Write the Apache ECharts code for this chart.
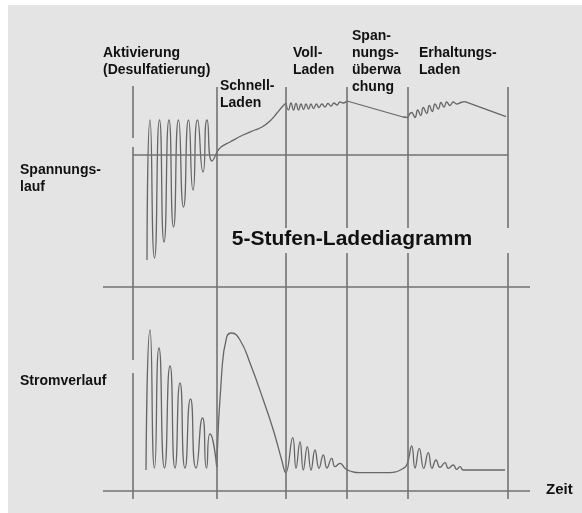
<!DOCTYPE html>
<html>
<head>
<meta charset="utf-8">
<script src="https://cdn.jsdelivr.net/npm/echarts@6/dist/echarts.min.js"></script>
<style>
html,body{margin:0;padding:0;background:#ffffff;}
#chart{width:582px;height:513px;}
</style>
</head>
<body>
<div id="chart"></div>
<script>
// Time axis (arbitrary units), stage boundaries
var stageBounds = [0, 84, 153, 214, 275, 375];
var stageNames = ['Aktivierung\n(Desulfatierung)', 'Schnell-\nLaden', 'Voll-\nLaden', 'Span-\nnungs-\nüberwa\nchung', 'Erhaltungs-\nLaden'];
var titleText = '5-Stufen-Ladediagramm';
var rowLabels = ['Spannungs-\nlauf', 'Stromverlauf'];
var timeLabel = 'Zeit';

// Voltage curve per stage (relative to resting voltage, arbitrary units) [t, u]
var voltActivation = [
  [14,-105],[17,35],[21.5,-103],[26.5,35],[31,-87],[36,35],[40.5,-72],[45.5,35],
  [50.5,-52],[55.5,35],[60,-35],[64.5,35],[70,-17],[74,35],[79,-6],[84,3]
];
var voltFast = [
  [84,3],[88,8],[97,13],[110,20],[122,25],[129,28],[137,34],[144,42],[149,48],[153,52]
];
var voltFull = [
  [153,52],[155.5,45],[158,52],[160.5,45],[163,51.5],[165.5,45],[168,51],[170.5,45.5],[173,51],
  [175.5,46],[178,51],[180.5,46.5],[183.5,51],[186,47.5],[189,51],[192,48],[195,51.5],
  [198,49],[201,52],[204,50],[207,53],[210,52],[214,54]
];
var voltMonitor = [[214,54],[270,38],[275,37.5]];
var voltFloat = [
  [275,37.5],[278.7,42.5],[282,37.5],[284.7,45],[287.7,39.5],[290.3,47.5],[293.7,41.5],[296.3,49.5],
  [299.3,43.5],[302,51],[305.3,46],[308,52.5],[311,48],[313.7,53],[317,49.5],
  [320.3,53],[323.7,51],[328,52.5],[332,53.3]
];
var voltFloatDecline = [[332,53.3],[373,38.3]];

// Current curve per stage (arbitrary units, 0 = time axis) [t, i]
var currActivation = [
  [13,21],[17,161],[21.5,23],[26,143],[31.5,23],[37,125],[42,23],[47,108],[52,23],
  [57.5,92],[63,23],[69.5,73],[73.5,23],[77,57],[83.7,24]
];
var currRest = [
  [83.7,24],[88.7,118],[93.7,154],[98.7,158],[107,151],[117,128],[130.3,91],[140.3,61],[148.7,31],[152.7,18.3],
  [159.7,53.3],[163,22.7],[167,49.3],[170.3,21],[174.3,44.3],[178,21],[182,41],[186,22.7],
  [190.3,36],[194,23],[198.7,32.7],[202,24.3],[207,27.7],[212,22.7],[217,20],[227,18.3],
  [257,18.3],[264,19.5],[268.7,21.7],[273.7,26],
  [278.7,45],[282,23],[286.3,42.7],[290.7,22.7],[295.3,38.3],[299,22.7],[303,31],[307,23.7],
  [312,28.3],[315.3,22.7],[320.3,26],[323.7,21.7],[327,24.3],[330.3,21],[372,21]
];

// Axis ranges
var tMin = -30, tMax = 397;
var uMin = -344, uMax = 69;
var iMin = -8, iMax = 405;
var dividerI = 204;      // horizontal line between voltage and current panels
var voltBaseU = 0;       // resting voltage line

var FRAME = '#727272';
var CURVE = '#666666';
var TXT = '#111111';
var FONT = '"Liberation Sans", Arial, Helvetica, sans-serif';

function seg(t, a, b){ return [{coord:[t,a]},{coord:[t,b]}]; }

var frameLines = [];
frameLines.push(seg(stageBounds[0], iMax, 353));
frameLines.push(seg(stageBounds[0], 344, 131));
frameLines.push(seg(stageBounds[0], 118, iMin));
frameLines.push(seg(stageBounds[1], 404, iMin));
for (var k = 2; k < stageBounds.length; k++) {
  frameLines.push(seg(stageBounds[k], iMax - 1, 263));
  frameLines.push(seg(stageBounds[k], 238, iMin));
}
frameLines.push([{coord:[tMin, dividerI]},{coord:[tMax, dividerI]}]);
frameLines.push([{coord:[tMin, 0]},{coord:[tMax, 0]}]);

var chart = echarts.init(document.getElementById('chart'), null, {renderer:'canvas'});

var textStyleBase = {fill: TXT, fontSize: 14, fontWeight: 'bold', fontFamily: FONT, lineHeight: 17, align:'left', verticalAlign:'top'};
function label(txt, x, y, extra){
  var st = Object.assign({}, textStyleBase, {text: txt, x: x, y: y}, extra || {});
  return {type:'text', silent:true, z:100, style: st};
}

function curve(name, data, axis, smooth, extra){
  return Object.assign({
    name: name, type: 'line', yAxisIndex: axis, data: data,
    smooth: smooth, showSymbol: false, symbol: 'none', clip: false,
    lineStyle: {color: CURVE, width: 1.3}
  }, extra || {});
}

var frameMarkLine = function(data){
  return {
    silent: true, symbol: 'none', animation: false,
    label: {show: false},
    lineStyle: {type: 'solid', color: FRAME, width: 1.6},
    data: data
  };
};

var option = {
  animation: false,
  backgroundColor: '#ffffff',
  grid: {left: 103, right: 52, top: 86, bottom: 14, containLabel: false},
  xAxis: {type:'value', min: tMin, max: tMax, show: false},
  yAxis: [
    {type:'value', min: uMin, max: uMax, show: false},
    {type:'value', min: iMin, max: iMax, show: false}
  ],
  graphic: [
    {type:'rect', silent:true, z:-10, shape:{x:8, y:5, width:574, height:508}, style:{fill:'#e4e4e4'}},
    label(stageNames[0], 103, 45),
    label(stageNames[1], 220, 78),
    label(stageNames[2], 293, 45),
    label(stageNames[3], 352, 28),
    label(stageNames[4], 419, 45),
    label(rowLabels[0], 20, 162),
    label(rowLabels[1], 20, 373),
    label(timeLabel, 546, 481, {fontSize: 15}),
    label(titleText, 352, 239, {fontSize: 21, align:'center', verticalAlign:'middle', lineHeight: 24})
  ],
  series: [
    curve('U Aktivierung', voltActivation, 0, 0.7, {
      markLine: frameMarkLine([[{coord:[stageBounds[0], voltBaseU]},{coord:[stageBounds[stageBounds.length-1], voltBaseU]}]])
    }),
    curve('U Schnell', voltFast, 0, 0.4),
    curve('U Voll', voltFull, 0, 0.5),
    curve('U Überwachung', voltMonitor, 0, false),
    curve('U Erhaltung', voltFloat, 0, 0.5),
    curve('U Erhaltung 2', voltFloatDecline, 0, false),
    curve('I Aktivierung', currActivation, 1, 0.7, {markLine: frameMarkLine(frameLines)}),
    curve('I Laden', currRest, 1, 0.5)
  ]
};
chart.setOption(option);
</script>
</body>
</html>
